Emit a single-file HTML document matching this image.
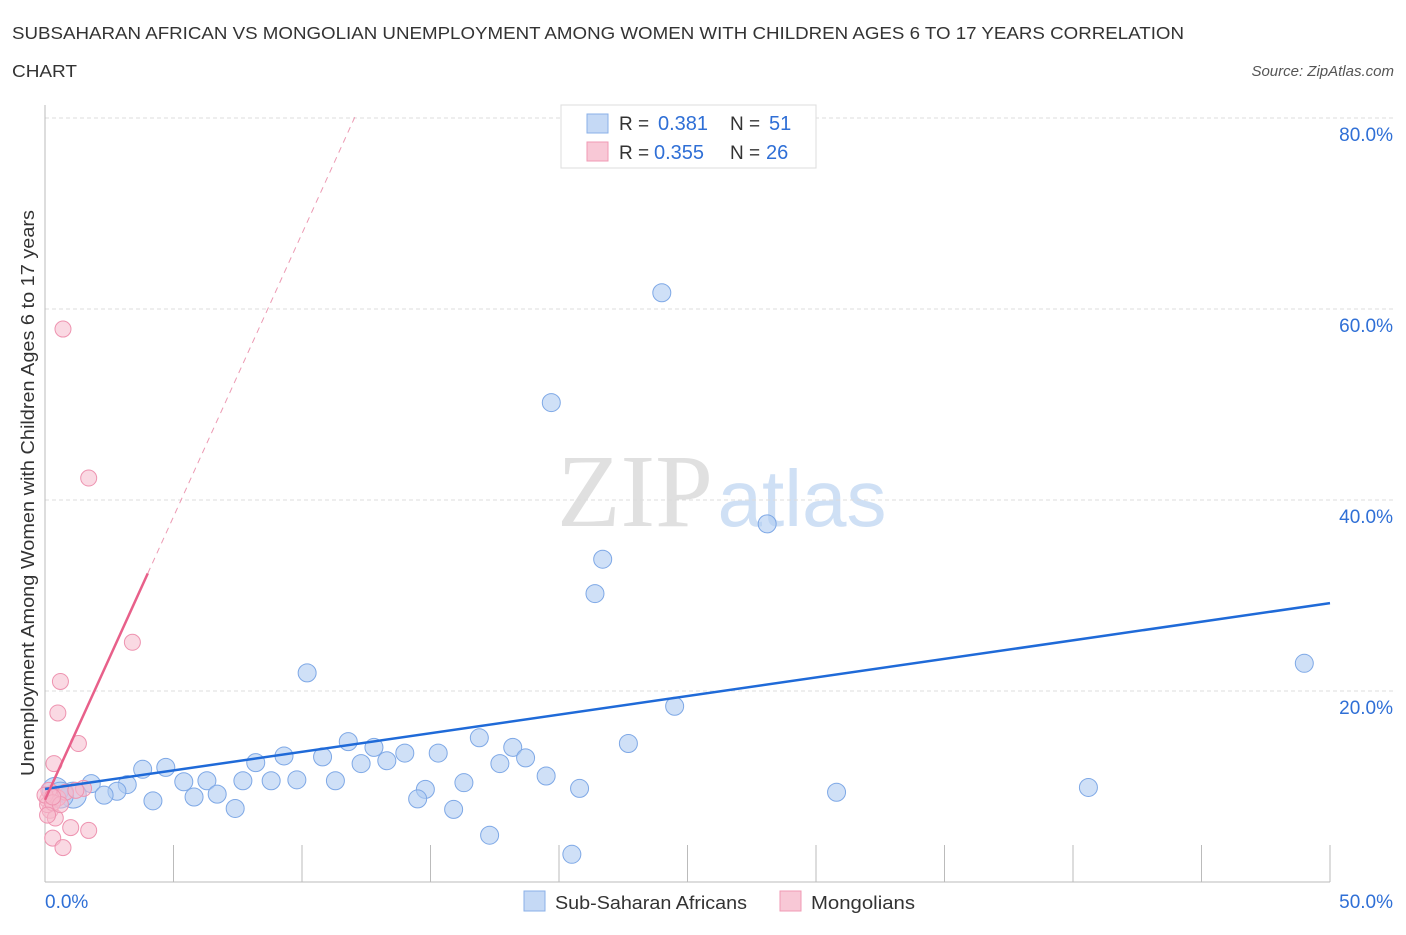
<!DOCTYPE html>
<html><head><meta charset="utf-8"><style>
body{margin:0;background:#fff;font-family:"Liberation Sans",sans-serif;}
</style></head><body>
<svg id="chart" width="1406" height="930" xmlns="http://www.w3.org/2000/svg">
<text x="12" y="39" font-size="17.5" fill="#333" textLength="1172" lengthAdjust="spacingAndGlyphs">SUBSAHARAN AFRICAN VS MONGOLIAN UNEMPLOYMENT AMONG WOMEN WITH CHILDREN AGES 6 TO 17 YEARS CORRELATION</text>
<text x="12" y="77" font-size="17.5" fill="#333" textLength="65" lengthAdjust="spacingAndGlyphs">CHART</text>
<text x="1394" y="76" font-size="15" fill="#555" font-style="italic" text-anchor="end">Source: ZipAtlas.com</text>
<text x="34" y="493" font-size="18" fill="#333" text-anchor="middle" textLength="566" lengthAdjust="spacingAndGlyphs" transform="rotate(-90 34 493)">Unemployment Among Women with Children Ages 6 to 17 years</text>
<text x="635" y="526" font-size="104" fill="#e0e0e0" font-family="Liberation Serif,serif" text-anchor="middle">ZIP</text>
<text x="802" y="526" font-size="80" fill="#cfe0f5" text-anchor="middle">atlas</text>
<g id="grid"></g><g id="marks"></g>
<g>
<rect x="561" y="105" width="255" height="63" fill="#fff" stroke="#ddd"/>
<rect x="587" y="114" width="21" height="19" fill="#c5d9f5" stroke="#8ab0e8"/>
<rect x="587" y="142" width="21" height="19" fill="#f8c8d6" stroke="#f09ab4"/>
<text x="619" y="130" font-size="19" fill="#333">R = </text><text x="658" y="130" font-size="20" fill="#2f6fd6">0.381</text>
<text x="730" y="130" font-size="19" fill="#333">N = </text><text x="769" y="130" font-size="20" fill="#2f6fd6">51</text>
<text x="619" y="159" font-size="19" fill="#333">R = </text><text x="654" y="159" font-size="20" fill="#2f6fd6">0.355</text>
<text x="730" y="159" font-size="19" fill="#333">N = </text><text x="766" y="159" font-size="20" fill="#2f6fd6">26</text>
</g>
<g>
<rect x="524" y="891" width="21" height="20" fill="#c5d9f5" stroke="#8ab0e8"/>
<text x="555" y="909" font-size="18.5" fill="#333" textLength="192" lengthAdjust="spacingAndGlyphs">Sub-Saharan Africans</text>
<rect x="780" y="891" width="21" height="20" fill="#f8c8d6" stroke="#f09ab4"/>
<text x="811" y="909" font-size="18.5" fill="#333" textLength="104" lengthAdjust="spacingAndGlyphs">Mongolians</text>
</g>
</svg>
<script>
const yTicks=[20,40,60,80];
const xTickLabels=["0.0%","50.0%"];
const blueX=[24.0,19.7,28.1,21.7,21.4,49.0,10.2,24.5,22.7,11.8,16.9,12.8,18.2,8.2,9.3,10.8,14.0,15.3,18.7,12.3,13.3,17.7,3.8,4.7,19.5,6.3,7.7,8.8,9.8,11.3,16.3,14.8,20.8,30.8,40.6,1.8,3.2,2.8,2.3,1.1,0.4,5.4,6.7,5.8,14.5,4.2,7.4,15.9,17.3,20.5,0.6];
const blueY=[61.7,50.2,37.5,33.8,30.2,22.9,21.9,18.4,14.5,14.7,15.1,14.1,14.1,12.5,13.2,13.1,13.5,13.5,13.0,12.4,12.7,12.4,11.8,12.0,11.1,10.6,10.6,10.6,10.7,10.6,10.4,9.7,9.8,9.4,9.9,10.3,10.2,9.5,9.1,9.1,9.6,10.5,9.2,8.9,8.7,8.5,7.7,7.6,4.9,2.9,9.1];
const pinkX=[0.7,1.7,3.4,0.6,0.5,1.3,0.35,1.5,0.3,0.1,0.2,0.4,1.0,1.7,0.3,0.7,0.1,0.5,0.15,0.8,0.0,0.3,0.6,0.3,1.2,0.1];
const pinkY=[57.9,42.3,25.1,21.0,17.7,14.5,12.4,9.8,9.3,8.6,7.5,6.7,5.7,5.4,4.6,3.6,8.1,8.8,9.6,9.4,9.1,8.3,8.1,8.9,9.6,7.0];
const blueFit=[9.74,29.2];
const pinkFit=[8.6,5.93];
const NS="http://www.w3.org/2000/svg";
const X=v=>45+v*25.7, Y=v=>882-v*9.55;
function mk(t,a,p){const e=document.createElementNS(NS,t);for(const k in a)e.setAttribute(k,a[k]);p.appendChild(e);return e;}
const g=document.getElementById('grid'),m=document.getElementById('marks');
yTicks.forEach(t=>{
 const l=mk('line',{x1:45,x2:1395,y1:Y(t),y2:Y(t),stroke:'#ddd','stroke-dasharray':'4,3'},g);
 
 
 const tx=mk('text',{x:1393,y:Y(t)+23,'font-size':19,fill:'#2f6fd6','text-anchor':'end'},g);tx.textContent=t.toFixed(1)+'%';
 
 
});
mk('line',{x1:45,x2:45,y1:105,y2:882,stroke:'#bbb'},g);
mk('line',{x1:45,x2:1330,y1:882,y2:882,stroke:'#bbb'},g);
for(let i=1;i<=10;i++){const l=mk('line',{x1:X(i*5),x2:X(i*5),y1:845,y2:882,stroke:'#bbb'},g);
 
 }
const t0=mk('text',{x:45,y:908,'font-size':19,fill:'#2f6fd6'},g);t0.textContent=xTickLabels[0];


const t1=mk('text',{x:1393,y:908,'font-size':19,fill:'#2f6fd6','text-anchor':'end'},g);t1.textContent=xTickLabels[1];


blueX.forEach((x,i)=>{const c=mk('circle',{cx:X(x),cy:Y(blueY[i]),r:(x<1.5?13:9),fill:'rgba(175,203,242,0.6)',stroke:'#7ea8e6','stroke-width':1},m);
 
 });
pinkX.forEach((x,i)=>{const c=mk('circle',{cx:X(x),cy:Y(pinkY[i]),r:8,fill:'rgba(246,186,204,0.55)',stroke:'#ee93b0','stroke-width':1},m);
 
 });
const bl=mk('line',{x1:X(0),y1:Y(blueFit[0]),x2:X(50),y2:Y(blueFit[1]),stroke:'#1f6ad8','stroke-width':2.5},m);


const pl=mk('line',{x1:X(0),y1:Y(pinkFit[0]),x2:X(4),y2:Y(pinkFit[0]+pinkFit[1]*4),stroke:'#e8608a','stroke-width':2.5},m);


const pd=mk('line',{x1:X(4),y1:Y(pinkFit[0]+pinkFit[1]*4),x2:X(12.06),y2:Y(pinkFit[0]+pinkFit[1]*12.06),stroke:'#ec9ab3','stroke-width':1,'stroke-dasharray':'6,5'},m);


</script>
</body></html>
